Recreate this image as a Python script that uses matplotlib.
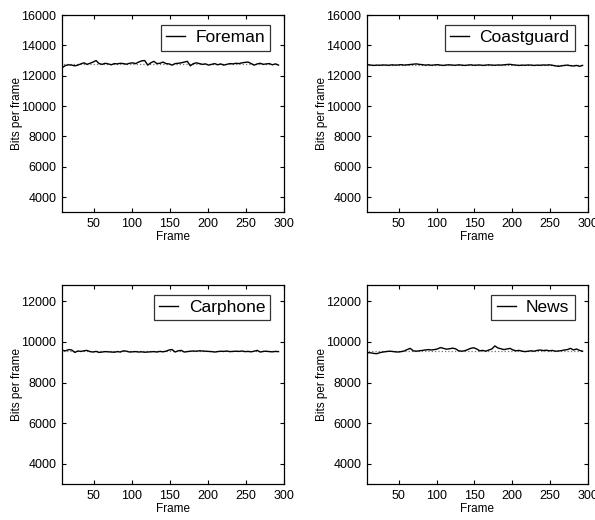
import numpy as np
import matplotlib
matplotlib.use('Agg')
import matplotlib.pyplot as plt

plt.rcParams['font.family'] = ['Liberation Sans', 'DejaVu Sans']

# bits per frame, sampled every 4 frames starting at frame 5
foreman = [12700, 12550, 12680, 12720, 12700, 12650, 12700, 12780, 12850, 12750,
           12820, 12900, 13000, 12800, 12750, 12820, 12780, 12720, 12800, 12780,
           12820, 12800, 12760, 12820, 12850, 12800, 12900, 12980, 13000, 12700,
           12850, 12950, 12800, 12820, 12900, 12800, 12780, 12700, 12800, 12820,
           12850, 12900, 12950, 12650, 12800, 12850, 12800, 12750, 12780, 12700,
           12750, 12800, 12720, 12780, 12700, 12750, 12800, 12780, 12820, 12800,
           12850, 12880, 12900, 12800, 12700, 12780, 12820, 12750, 12780, 12800,
           12720, 12780, 12700]
coastguard = [12750, 12730, 12700, 12680, 12700, 12690, 12710, 12700, 12690, 12720,
              12700, 12710, 12730, 12700, 12720, 12740, 12760, 12780, 12750, 12730,
              12700, 12720, 12690, 12710, 12730, 12700, 12680, 12710, 12720, 12700,
              12690, 12720, 12700, 12680, 12700, 12720, 12690, 12700, 12710, 12680,
              12700, 12720, 12700, 12690, 12710, 12700, 12720, 12740, 12750, 12720,
              12700, 12680, 12700, 12690, 12710, 12700, 12680, 12700, 12690, 12710,
              12700, 12720, 12690, 12650, 12620, 12650, 12680, 12700, 12660, 12640,
              12680, 12620, 12680]
carphone = [9550, 9580, 9560, 9620, 9600, 9480, 9550, 9530, 9560, 9580,
            9520, 9500, 9530, 9480, 9500, 9520, 9510, 9500, 9490, 9520,
            9500, 9560, 9540, 9500, 9510, 9520, 9500, 9510, 9490, 9500,
            9510, 9520, 9500, 9530, 9510, 9540, 9600, 9620, 9500, 9560,
            9580, 9500, 9520, 9540, 9550, 9540, 9560, 9550, 9540, 9530,
            9520, 9500, 9520, 9540, 9530, 9550, 9520, 9530, 9540, 9530,
            9550, 9520, 9530, 9510, 9540, 9580, 9500, 9530, 9540, 9520,
            9510, 9530, 9520]
news = [9480, 9470, 9460, 9430, 9420, 9470, 9500, 9520, 9540, 9530,
        9510, 9500, 9520, 9550, 9620, 9680, 9560, 9540, 9560, 9580,
        9600, 9620, 9600, 9620, 9650, 9720, 9680, 9640, 9660, 9690,
        9660, 9560, 9540, 9560, 9620, 9680, 9710, 9650, 9560, 9580,
        9540, 9600, 9650, 9800, 9700, 9660, 9620, 9650, 9680, 9600,
        9560, 9580, 9540, 9520, 9540, 9560, 9540, 9580, 9600, 9570,
        9590, 9560, 9580, 9540, 9550, 9570, 9600, 9620, 9680, 9600,
        9650, 9580, 9540]

targets = {'Foreman': 12750, 'Coastguard': 12700, 'Carphone': 9530, 'News': 9550}
series = {'Foreman': foreman, 'Coastguard': coastguard, 'Carphone': carphone, 'News': news}

fig = plt.figure(figsize=(5.95, 5.2), dpi=100)
positions = {
    'Foreman':    [0.104, 0.592, 0.373, 0.379],
    'Coastguard': [0.617, 0.592, 0.371, 0.379],
    'Carphone':   [0.104, 0.069, 0.373, 0.383],
    'News':       [0.617, 0.069, 0.371, 0.383],
}

for name, vals in series.items():
    ax = fig.add_axes(positions[name])
    frames = 5 + 4 * np.arange(len(vals))
    ax.plot(frames, [targets[name]] * len(frames), ':', color='0.45', lw=0.9)
    ax.plot(frames, vals, '-', color='black', lw=1.0, label=name)
    ax.set_xlim(8, 300)
    if name in ('Foreman', 'Coastguard'):
        ax.set_ylim(3000, 16000)
        ax.set_yticks(range(4000, 16001, 2000))
    else:
        ax.set_ylim(3000, 12800)
        ax.set_yticks(range(4000, 12001, 2000))
    ax.set_xticks(range(50, 301, 50))
    ax.tick_params(direction='in', top=True, right=True, length=3, width=0.8,
                   labelsize=9, pad=4)
    for s in ax.spines.values():
        s.set_linewidth(0.9)
    ax.set_xlabel('Frame', fontsize=8.5, labelpad=1)
    ax.set_ylabel('Bits per frame', fontsize=8.5, labelpad=-1)
    leg = ax.legend(loc='upper right', bbox_to_anchor=(0.94, 0.95), borderaxespad=0,
                    fontsize=12.5, frameon=True, fancybox=False, handlelength=1.1,
                    handletextpad=0.6, borderpad=0.3)
    leg.get_frame().set_edgecolor('black')
    leg.get_frame().set_linewidth(0.9)

fig.savefig('out.png', dpi=100)
